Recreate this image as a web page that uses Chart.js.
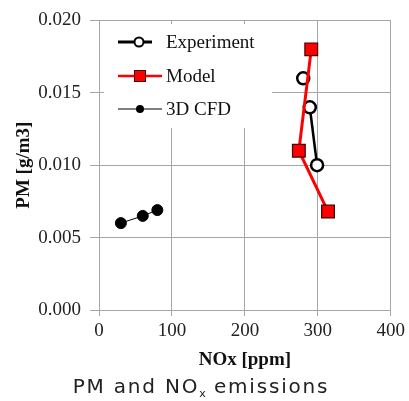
<!DOCTYPE html>
<html>
<head>
<meta charset="utf-8">
<style>
  body { margin: 0; background: #fff; }
  #wrap { position: absolute; left: 0; top: 0; width: 409px; height: 375px; }
  #caption {
    position: absolute; left: 0; top: 374px; width: 402px; height: 24px;
    text-align: center; font-family: "DejaVu Sans", sans-serif; font-size: 20px;
    line-height: 24px; color: #222; letter-spacing: 1.8px;
  }
  #caption sub { font-size: 11px; vertical-align: -4px; line-height: 0; letter-spacing: 0; }
</style>
</head>
<body>
<div id="wrap"><canvas id="pm_nox"></canvas></div>
<div id="caption">PM and NO<sub>x</sub> emissions</div>

<script src="https://cdn.jsdelivr.net/npm/chart.js"></script>
<script>
    // values
    const exp_nox = [280, 289, 299];
    const exp_pm = [0.0160, 0.0140, 0.0100];

    const model_nox = [291, 274, 314];
    const model_pm = [0.0180, 0.0110, 0.0068];

    const cfd_nox = [30, 60, 80];
    const cfd_pm = [0.0060, 0.0065, 0.0069];

    const x_ticks = [0, 100, 200, 300, 400];
    const y_ticks = [0.000, 0.005, 0.010, 0.015, 0.020];

    const legend_labels = ['Experiment', 'Model', '3D CFD'];

    function toPoints(xs, ys){
        return xs.map((x, i) => ({x: x, y: ys[i]}))
    }

    const serif = '"Liberation Serif", "Times New Roman", serif';
    const gridGray = '#a6a6a6';

    // legend sits inside the plot on a white box, drawn before the data
    const insideLegend = {
        id: 'insideLegend',
        beforeDatasetsDraw(chart){
            const ctx = chart.ctx;
            ctx.save();
            ctx.fillStyle = '#fff';
            ctx.fillRect(104, 24, 168, 104);

            const rows = [42, 76, 109];
            ctx.font = '19px ' + serif;
            ctx.textBaseline = 'middle';
            ctx.fillStyle = '#111';
            legend_labels.forEach((t, i) => ctx.fillText(t, 166, rows[i] + 1));

            // Experiment
            ctx.strokeStyle = '#000';
            ctx.lineWidth = 3;
            ctx.beginPath(); ctx.moveTo(118, rows[0]); ctx.lineTo(152, rows[0]); ctx.stroke();
            ctx.fillStyle = '#fff';
            ctx.lineWidth = 2;
            ctx.beginPath(); ctx.arc(139, rows[0], 4.5, 0, Math.PI * 2); ctx.fill(); ctx.stroke();

            // Model
            ctx.strokeStyle = '#ff0000';
            ctx.lineWidth = 2.5;
            ctx.beginPath(); ctx.moveTo(118, rows[1]); ctx.lineTo(162, rows[1]); ctx.stroke();
            ctx.fillStyle = '#ff0000';
            ctx.fillRect(134.5, rows[1] - 5.5, 11, 11);
            ctx.strokeStyle = '#400000';
            ctx.lineWidth = 1;
            ctx.strokeRect(134.5, rows[1] - 5.5, 11, 11);

            // 3D CFD
            ctx.strokeStyle = '#000';
            ctx.lineWidth = 1;
            ctx.beginPath(); ctx.moveTo(118, rows[2]); ctx.lineTo(162, rows[2]); ctx.stroke();
            ctx.fillStyle = '#000';
            ctx.beginPath(); ctx.arc(140, rows[2], 4, 0, Math.PI * 2); ctx.fill();
            ctx.restore();
        }
    };

    const pm_nox_chart = new Chart(document.getElementById('pm_nox'), {
        type: 'scatter',
        data: {
            datasets: [{
                label: legend_labels[2],
                data: toPoints(cfd_nox, cfd_pm),
                showLine: true,
                borderColor: '#000',
                borderWidth: 1,
                pointRadius: 5.5,
                pointBackgroundColor: '#000',
                pointBorderColor: '#000',
                pointBorderWidth: 1,
                order: 3,
            }, {
                label: legend_labels[0],
                data: toPoints(exp_nox, exp_pm),
                showLine: true,
                borderColor: '#000',
                borderWidth: 2.5,
                segment: {
                    borderColor: ctx => ctx.p0DataIndex === 0 ? 'rgba(0,0,0,0)' : '#000'
                },
                pointRadius: 6,
                pointBackgroundColor: '#fff',
                pointBorderColor: '#000',
                pointBorderWidth: 2.5,
                order: 2,
            }, {
                label: legend_labels[1],
                data: toPoints(model_nox, model_pm),
                showLine: true,
                borderColor: '#ff0000',
                borderWidth: 3,
                pointStyle: 'rect',
                pointRadius: 9,
                pointBackgroundColor: '#ff0000',
                pointBorderColor: '#400000',
                pointBorderWidth: 1.2,
                order: 1,
            }]
        },
        options: {
            responsive: true,
            maintainAspectRatio: false,
            animation: false,
            layout: {
                padding: {left: 0, right: 18, top: 19, bottom: 0}
            },
            plugins: {
                legend: { display: false },
                tooltip: { enabled: false }
            },
            scales: {
                x: {
                    type: 'linear',
                    min: 0,
                    max: 400,
                    afterBuildTicks: axis => { axis.ticks = x_ticks.map(v => ({value: v})) },
                    afterFit: axis => { axis.height = 65 },
                    ticks: {
                        color: '#222',
                        font: { family: serif, size: 19 },
                        padding: 4,
                    },
                    grid: { color: gridGray, tickLength: 6, tickColor: gridGray },
                    border: { color: gridGray },
                    title: {
                        display: true,
                        text: 'NOx [ppm]',
                        color: '#111',
                        font: { family: serif, size: 19, weight: 'bold' },
                        padding: { top: 0, bottom: 4 }
                    }
                },
                y: {
                    min: 0,
                    max: 0.02,
                    afterBuildTicks: axis => { axis.ticks = y_ticks.map(v => ({value: v})) },
                    afterFit: axis => { axis.width = 99 },
                    ticks: {
                        color: '#222',
                        font: { family: serif, size: 19 },
                        padding: 9,
                        callback: v => v.toFixed(3)
                    },
                    grid: { color: gridGray, tickLength: 9, tickColor: gridGray },
                    border: { color: gridGray },
                    title: {
                        display: true,
                        text: 'PM [g/m3]',
                        color: '#111',
                        font: { family: serif, size: 19, weight: 'bold' },
                        padding: { top: 13, bottom: 0 }
                    }
                }
            }
        },
        plugins: [insideLegend]
    });
</script>
</body>
</html>
